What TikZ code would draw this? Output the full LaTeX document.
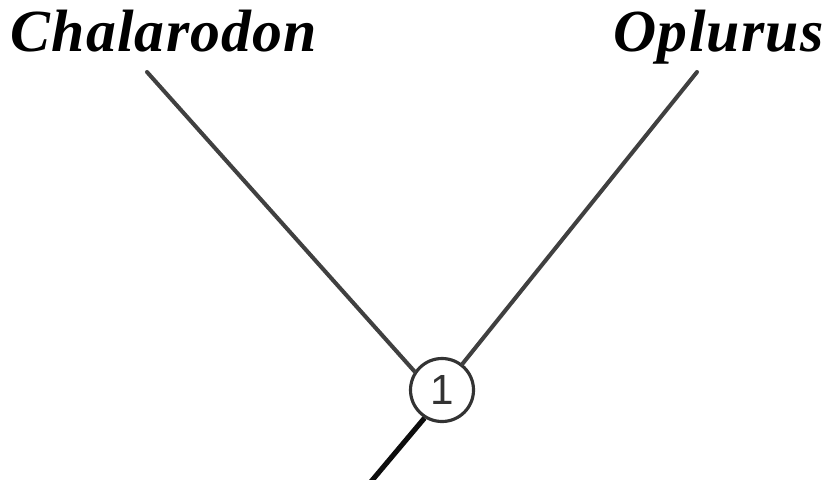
\documentclass[tikz,border=0pt]{standalone}
\usepackage{fontspec}
\setmainfont{Liberation Serif}
\setsansfont{Liberation Sans}
\newfontfamily\taxonfont[LetterSpace=2]{Liberation Serif}
\begin{document}
\begin{tikzpicture}[every node/.style={inner sep=0pt}]

% Estilos
\tikzset{
    taxon/.style={font=\taxonfont\fontsize{17}{17}\selectfont\bfseries\itshape, anchor=base west},
    branch/.style={black!75, line width=1.15pt, line cap=round},
    stem/.style={black!95, line width=1.45pt},
    clade/.style={circle, draw=black!80, line width=0.9pt, minimum size=0.63cm, fill=white,
        font=\sffamily\fontsize{12}{12}\selectfont, text=black!80}
}

\useasboundingbox (0,0) rectangle (8.24,4.79);

% Etiquetas de los taxones
\node[taxon] (chalarodon) at (0.10,4.27) {Chalarodon};
\node[taxon] (oplurus) at (6.13,4.27) {Oplurus};

% Extremos de las ramas
\coordinate (tipC) at (1.47,4.07);
\coordinate (tipO) at (6.97,4.07);
\coordinate (root) at (3.69,-0.05);

% Nodo 1
\node[clade] (n1) at (4.42,0.89) {1};

% Ramas
\draw[branch] (tipC) -- (n1.146);
\draw[branch] (tipO) -- (n1.52);
\draw[stem] (n1.238) -- (root);

\end{tikzpicture}
\end{document}
